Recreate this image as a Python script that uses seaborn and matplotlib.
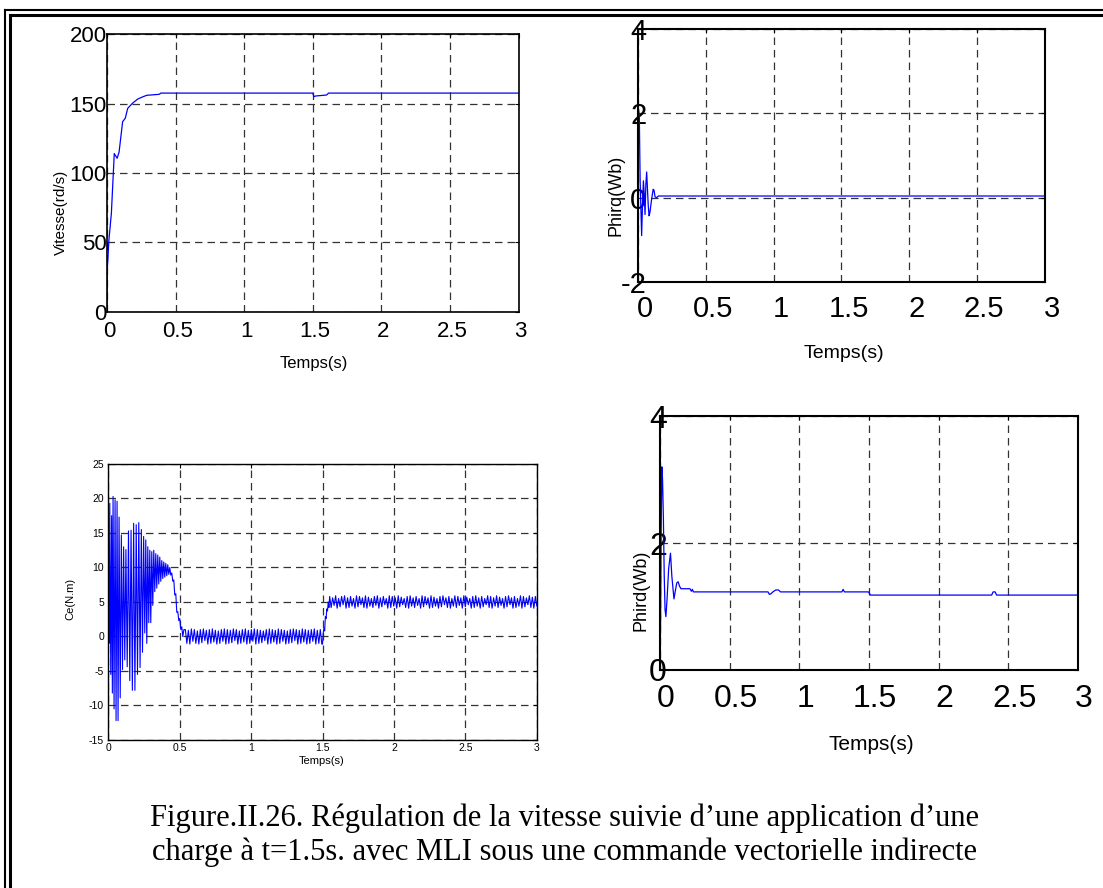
import numpy as np
import pandas as pd
import seaborn as sns
import matplotlib.pyplot as plt
from matplotlib.lines import Line2D
from matplotlib.transforms import ScaledTranslation

# ---- données ----
# vitesse (rd/s)
t_w = [0, 0.002, 0.014, 0.032, 0.053, 0.074, 0.088, 0.114, 0.133, 0.151, 0.185,
       0.224, 0.263, 0.29, 0.38, 0.393, 1.5, 1.508, 1.52, 1.6, 1.615, 3.0]
w = [0, 30, 51.7, 71, 114, 110.6, 115, 137, 139.4, 146.6, 150.2,
     153.3, 155, 156, 156.7, 157.6, 157.6, 155, 155.5, 156.2, 157.6, 157.6]

# flux quadrature (Wb)
t_q = [0, 0.004, 0.01, 0.016, 0.022, 0.027, 0.033, 0.04, 0.046, 0.052, 0.058, 0.064,
       0.07, 0.076, 0.082, 0.088, 0.1, 0.112, 0.118, 0.126, 0.138, 0.15, 0.162, 3.0]
phi_q = [0, 2.1, 1.9, 0.4, -0.3, -0.9, -0.2, 0.4, 0.1, -0.4, 0.3, 0.61,
         0.2, -0.2, -0.43, -0.35, -0.05, 0.2, 0.18, 0.02, 0.0, 0.04, 0.04, 0.04]

# flux direct (Wb)
t_d = [0, 0.004, 0.008, 0.013, 0.018, 0.024, 0.03, 0.036, 0.042, 0.05, 0.062, 0.075,
       0.085, 0.1, 0.11, 0.12, 0.13, 0.14, 0.15, 0.215, 0.225, 0.232, 0.24, 0.775,
       0.785, 0.795, 0.81, 0.83, 0.85, 0.865, 1.305, 1.314, 1.323, 1.496, 1.51,
       2.38, 2.39, 2.405, 2.415, 3.0]
phi_d = [0, 0.8, 2.2, 3.2, 3.0, 2.4, 1.5, 0.95, 0.84, 1.1, 1.6, 1.84,
         1.47, 1.12, 1.25, 1.37, 1.39, 1.32, 1.28, 1.28, 1.24, 1.27, 1.23, 1.23,
         1.19, 1.2, 1.23, 1.26, 1.26, 1.23, 1.23, 1.27, 1.23, 1.23, 1.18,
         1.18, 1.23, 1.23, 1.18, 1.18]

# couple électromagnétique (N.m) : régime transitoire
t_ce0 = [0, 0.003, 0.006, 0.011, 0.018, 0.024, 0.029, 0.034, 0.041, 0.048, 0.055, 0.062,
         0.069, 0.076, 0.084, 0.092, 0.1, 0.108, 0.116, 0.124, 0.133, 0.142, 0.151, 0.16,
         0.169, 0.178, 0.187, 0.196, 0.205, 0.214, 0.223, 0.232, 0.24, 0.248, 0.256, 0.263,
         0.27, 0.277, 0.284, 0.291, 0.298, 0.305, 0.312, 0.319, 0.326, 0.333, 0.34, 0.347,
         0.354, 0.361, 0.368, 0.375, 0.382, 0.389, 0.396, 0.403, 0.41, 0.417, 0.424, 0.431,
         0.438, 0.445, 0.452, 0.459, 0.466, 0.473, 0.48, 0.487, 0.494, 0.501, 0.508, 0.515,
         0.522, 0.53]
ce0 = [0, 9, -1, 19.3, -5.5, 17.5, -8.2, 20.3, -10.5, 19.8, -12.2, 19.6,
       -12.2, 17.3, -8.9, 14.7, -4.8, 13, -3.4, 12.6, -4.4, 15.3, -6.4, 15.4,
       -7.8, 16.4, -7.8, 16.2, -5.5, 16.5, -4.5, 15.5, -2.3, 14.5, 0.5, 14,
       -1.0, 13, 2.0, 12.5, 2.0, 12.3, 4.5, 12.5, 6.5, 12.0, 7.0, 11.8,
       7.6, 11.5, 8.0, 11.0, 8.4, 10.8, 8.6, 10.6, 8.8, 10.4, 9.0, 10.0,
       8.9, 9.2, 8.0, 8.2, 6.0, 6.2, 3.5, 3.6, 2.3, 2.6, 1.0, 1.4,
       0.0, 1.0]

# ondulations à vide (0.54 s -> 1.5 s)
ce1_hi = [1.0, 0.9, 1.1, 1.0, 0.8, 1.0, 1.1, 0.9, 1.0, 1.1, 0.9, 0.8, 1.0, 1.1, 1.0, 0.9,
          1.1, 1.0, 0.8, 1.0, 1.1, 0.9, 1.0, 1.1, 1.0, 0.9, 0.8, 1.0, 1.1, 1.0, 0.9, 1.1,
          1.0, 0.9, 0.8, 1.0, 1.1, 1.0, 0.9, 1.1, 1.0, 0.9, 1.0, 1.1, 0.9, 1.0]
ce1_lo = [-1.0, -1.1, -0.7, -1.0, -1.1, -0.9, -0.6, -1.1, -1.0, -0.8, -1.1, -1.0, -0.7, -1.1,
          -1.0, -0.9, -0.6, -1.1, -1.0, -0.8, -1.1, -1.0, -0.7, -1.1, -1.0, -0.9, -0.6, -1.1,
          -1.0, -0.8, -1.1, -1.0, -0.7, -1.1, -1.0, -0.9, -0.6, -1.1, -1.0, -0.8, -1.1, -1.0,
          -0.7, -1.1, -1.0, -1.1]

# application de la charge à t = 1.5 s
t_ce_step = [1.5, 1.505, 1.51, 1.515, 1.52, 1.525, 1.53, 1.535, 1.54, 1.545]
ce_step = [-1.1, 0.5, 1.2, 0.8, 2.9, 2.6, 4.0, 3.7, 5.0, 4.2]

# ondulations en charge (1.55 s -> 3 s)
ce2_hi = [5.8, 5.6, 5.9, 5.5, 5.8, 5.9, 5.6, 5.8, 5.5, 5.9, 5.8, 5.6, 5.9, 5.7, 5.5, 5.8,
          5.9, 5.6, 5.8, 5.5, 5.9, 5.8, 5.6, 5.9, 5.7, 5.5, 5.8, 5.9, 5.6, 5.8, 5.5, 5.9,
          5.8, 5.6, 5.9, 5.7, 5.5, 5.8, 5.9, 5.6, 5.8, 5.5, 5.9, 5.8, 5.6, 5.9, 5.7, 5.5,
          5.8, 5.9, 5.6, 5.8, 5.5, 5.9, 5.8, 5.6, 5.9, 5.7, 5.5, 5.8, 5.9, 5.6, 5.8, 5.5,
          5.9, 5.8, 5.6, 5.9, 5.7, 5.8]
ce2_lo = [4.2, 4.5, 4.1, 4.3, 4.6, 4.1, 4.2, 4.4, 4.1, 4.3, 4.6, 4.2, 4.1, 4.4, 4.2, 4.5,
          4.1, 4.3, 4.6, 4.1, 4.2, 4.4, 4.1, 4.3, 4.6, 4.2, 4.1, 4.4, 4.2, 4.5, 4.1, 4.3,
          4.6, 4.1, 4.2, 4.4, 4.1, 4.3, 4.6, 4.2, 4.1, 4.4, 4.2, 4.5, 4.1, 4.3, 4.6, 4.1,
          4.2, 4.4, 4.1, 4.3, 4.6, 4.2, 4.1, 4.4, 4.2, 4.5, 4.1, 4.3, 4.6, 4.1, 4.2, 4.4,
          4.1, 4.3, 4.6, 4.2, 4.1, 4.4]

time_ticks = [0, 0.5, 1, 1.5, 2, 2.5, 3]
time_labels = ['0', '0.5', '1', '1.5', '2', '2.5', '3']

caption_1 = "Figure.II.26. Régulation de la vitesse suivie d’une application d’une"
caption_2 = "charge à t=1.5s. avec MLI sous une commande vectorielle indirecte"


def ripple(hi, lo, t0, t1):
    vals = [v for pair in zip(hi, lo) for v in pair]
    return np.linspace(t0, t1, len(vals)), vals


t1, v1 = ripple(ce1_hi, ce1_lo, 0.54, 1.495)
t2, v2 = ripple(ce2_hi, ce2_lo, 1.55, 3.0)
df_ce = pd.DataFrame({
    "t": np.concatenate([t_ce0, t1, t_ce_step, t2]),
    "ce": np.concatenate([ce0, v1, ce_step, v2]),
})
df_w = pd.DataFrame({"t": t_w, "w": w})
df_q = pd.DataFrame({"t": t_q, "phi": phi_q})
df_d = pd.DataFrame({"t": t_d, "phi": phi_d})

#%%
sns.set_style("white")
plt.rcParams['font.family'] = ['Liberation Sans', 'DejaVu Sans']
plt.rcParams['axes.unicode_minus'] = False
plt.rcParams['text.color'] = 'black'
plt.rcParams['axes.labelcolor'] = 'black'
plt.rcParams['xtick.color'] = 'black'
plt.rcParams['ytick.color'] = 'black'

fig = plt.figure(figsize=(11.03, 8.88), dpi=100)
ax1 = fig.add_axes([0.097, 0.649, 0.3732, 0.3124])
ax2 = fig.add_axes([0.5784, 0.6824, 0.369, 0.2849])
ax3 = fig.add_axes([0.0981, 0.1667, 0.3886, 0.3108])
ax4 = fig.add_axes([0.5984, 0.2455, 0.379, 0.286])

grid_kw = dict(color='#333333', linestyle=(0, (6, 4)), linewidth=0.9)


def style(ax, lw, size, xpad, ypad, shift=0):
    ax.set_xlim(0, 3)
    ax.set_xticks(time_ticks)
    ax.set_xticklabels(time_labels)
    ax.grid(True, **grid_kw)
    ax.tick_params(direction='in', length=3, top=True, right=True, labelsize=size,
                   colors='black')
    ax.tick_params(axis='x', pad=xpad)
    ax.tick_params(axis='y', pad=ypad)
    for s in ax.spines.values():
        s.set_linewidth(lw)
        s.set_color('black')
    if shift:
        off = ScaledTranslation(shift / 100, 0, fig.dpi_scale_trans)
        for lab in ax.get_xticklabels():
            lab.set_transform(lab.get_transform() + off)


# vitesse
sns.lineplot(data=df_w, x="t", y="w", ax=ax1, color='blue', lw=0.9,
             estimator=None, sort=False)
ax1.set_ylim(0, 200)
ax1.set_yticks([0, 50, 100, 150, 200])
style(ax1, 1.2, 16, 7, 0, shift=2)
ax1.set_xlabel("Temps(s)", fontsize=12, va='center')
ax1.xaxis.set_label_coords(0.503, -0.185)
ax1.set_ylabel("Vitesse(rd/s)", fontsize=11, va='center')
ax1.yaxis.set_label_coords(-0.112, 0.359)

# flux en quadrature
sns.lineplot(data=df_q, x="t", y="phi", ax=ax2, color='blue', lw=0.9,
             estimator=None, sort=False)
ax2.set_ylim(-2, 4)
ax2.set_yticks([-2, 0, 2, 4])
style(ax2, 1.5, 21, 9, -6, shift=7)
ax2.set_xlabel("Temps(s)", fontsize=14, va='center')
ax2.xaxis.set_label_coords(0.506, -0.281)
ax2.set_ylabel("Phirq(Wb)", fontsize=13, va='center')
ax2.yaxis.set_label_coords(-0.055, 0.344)

# couple
sns.lineplot(data=df_ce, x="t", y="ce", ax=ax3, color='blue', lw=0.8,
             estimator=None, sort=False)
ax3.set_ylim(-15, 25)
ax3.set_yticks(range(-15, 30, 5))
style(ax3, 1.0, 7.5, 2, 3)
ax3.set_xlabel("Temps(s)", fontsize=8, va='center')
ax3.xaxis.set_label_coords(0.499, -0.076)
ax3.set_ylabel("Ce(N.m)", fontsize=8, va='center')
ax3.yaxis.set_label_coords(-0.089, 0.511)

# flux direct
sns.lineplot(data=df_d, x="t", y="phi", ax=ax4, color='blue', lw=0.9,
             estimator=None, sort=False)
ax4.set_ylim(0, 4)
ax4.set_yticks([0, 2, 4])
style(ax4, 1.5, 23, 10, -5, shift=6)
ax4.set_xlabel("Temps(s)", fontsize=15, va='center')
ax4.xaxis.set_label_coords(0.505, -0.295)
ax4.set_ylabel("Phird(Wb)", fontsize=13, va='center')
ax4.yaxis.set_label_coords(-0.045, 0.315)

# double bordure du document
W, H = 1103.0, 888.0
for x, y0, lw in [(4.7, 9.7, 1.5), (9.7, 15.0, 2.2)]:
    fig.add_artist(Line2D([x / W, x / W], [1 - y0 / H, 0], color='black', lw=lw,
                          solid_capstyle='projecting'))
    fig.add_artist(Line2D([x / W, 1], [1 - y0 / H, 1 - y0 / H], color='black', lw=lw,
                          solid_capstyle='projecting'))

# légende de la figure
fig.text(0.512, 1 - 818 / H, caption_1, ha='center', va='center',
         family='Liberation Serif', fontsize=22)
fig.text(0.512, 1 - 852 / H, caption_2, ha='center', va='center',
         family='Liberation Serif', fontsize=22)

fig.savefig("out.png", dpi=100)
